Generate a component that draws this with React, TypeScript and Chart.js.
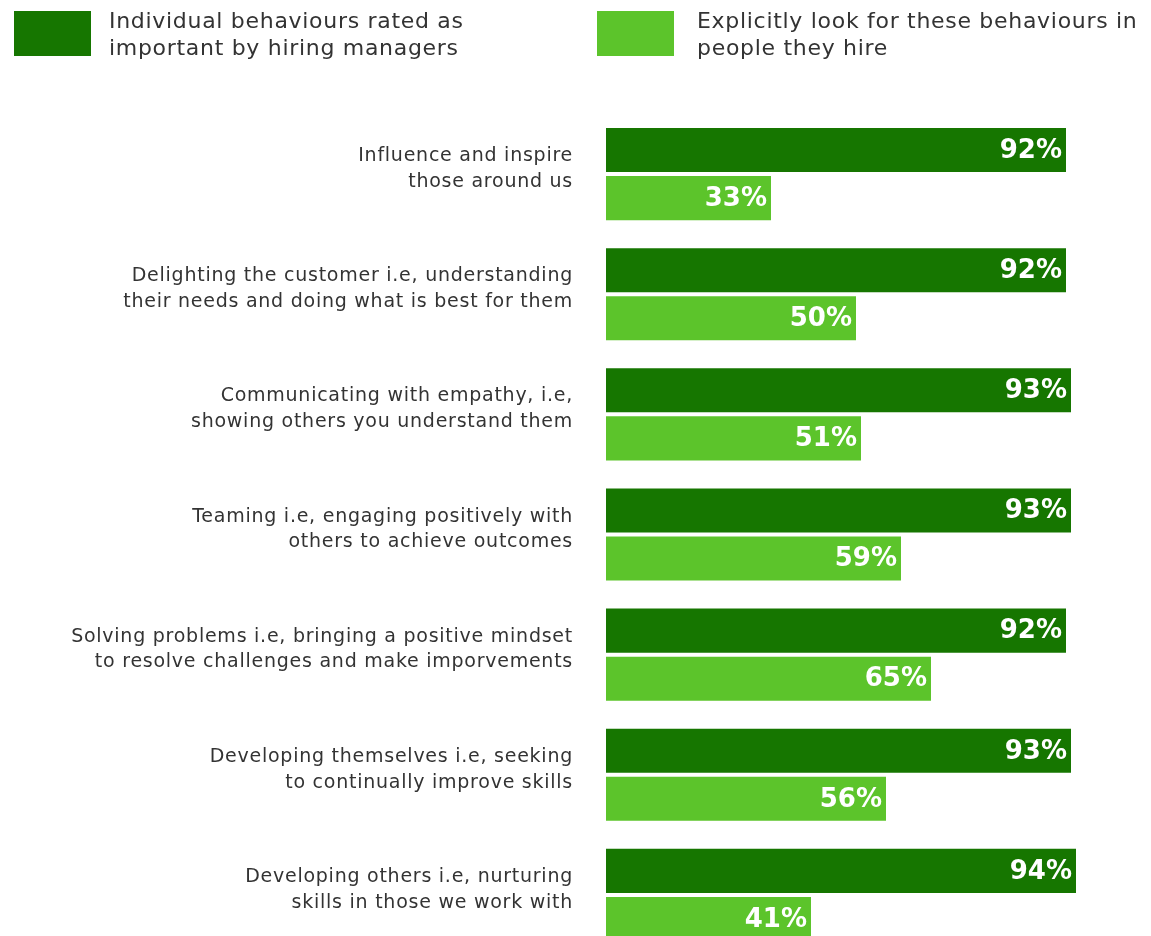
import React, { useEffect, useRef } from "react";
import { Chart, registerables } from "chart.js";

Chart.register(...registerables);

const categories: string[][] = [
  ["Influence and inspire", "those around us"],
  ["Delighting the customer i.e, understanding", "their needs and doing what is best for them"],
  ["Communicating with empathy, i.e,", "showing others you understand them"],
  ["Teaming i.e, engaging positively with", "others to achieve outcomes"],
  ["Solving problems i.e, bringing a positive mindset", "to resolve challenges and make imporvements"],
  ["Developing themselves i.e, seeking", "to continually improve skills"],
  ["Developing others i.e, nurturing", "skills in those we work with"],
];

const ratedImportant = [92, 92, 93, 93, 92, 93, 94];
const explicitlyLookFor = [33, 50, 51, 59, 65, 56, 41];

const seriesLabels: string[][] = [
  ["Individual behaviours rated as", "important by hiring managers"],
  ["Explicitly look for these behaviours in", "people they hire"],
];

const DARK = "#167600";
const LIGHT = "#5cc42b";
const TEXT = "#333333";
const FONT = "'DejaVu Sans', sans-serif";

const spacingPlugin = {
  id: "letterSpacing",
  beforeDraw(chart: any) {
    chart.ctx.letterSpacing = "0.75px";
  },
};

const legendPlugin = {
  id: "customLegend",
  afterDraw(chart: any) {
    const ctx = chart.ctx;
    const items = [
      { box: 6, text: 101 },
      { box: 589, text: 689 },
    ];
    ctx.save();
    ctx.letterSpacing = "0.7px";
    chart.data.datasets.forEach((ds: any, i: number) => {
      const pos = items[i];
      ctx.fillStyle = ds.backgroundColor;
      ctx.fillRect(pos.box, 3, 77, 45);
      ctx.fillStyle = TEXT;
      ctx.font = `22px ${FONT}`;
      ctx.textAlign = "left";
      ctx.textBaseline = "alphabetic";
      const lines: string[] = ds.legendLines;
      lines.forEach((ln, j) => ctx.fillText(ln, pos.text, 20 + j * 27));
    });
    ctx.restore();
  },
};

const valueLabelPlugin = {
  id: "valueLabels",
  afterDatasetsDraw(chart: any) {
    const ctx = chart.ctx;
    ctx.save();
    ctx.letterSpacing = "0px";
    ctx.fillStyle = "#ffffff";
    ctx.font = `bold 26px ${FONT}`;
    ctx.textAlign = "right";
    ctx.textBaseline = "middle";
    chart.data.datasets.forEach((ds: any, i: number) => {
      const meta = chart.getDatasetMeta(i);
      meta.data.forEach((bar: any, j: number) => {
        ctx.fillText(`${ds.data[j]}%`, bar.x - 4, bar.y + 1);
      });
    });
    ctx.restore();
  },
};

export default function App() {
  const ref = useRef<HTMLCanvasElement | null>(null);

  useEffect(() => {
    if (!ref.current) return;
    const prevHtml = document.documentElement.style.overflow;
    const prevBody = document.body.style.overflow;
    document.documentElement.style.overflow = "hidden";
    document.body.style.overflow = "hidden";
    const chart = new Chart(ref.current, {
      type: "bar",
      data: {
        labels: categories,
        datasets: [
          {
            label: seriesLabels[0].join(" "),
            legendLines: seriesLabels[0],
            data: ratedImportant,
            backgroundColor: DARK,
            barPercentage: 0.917,
            categoryPercentage: 0.8,
          } as any,
          {
            label: seriesLabels[1].join(" "),
            legendLines: seriesLabels[1],
            data: explicitlyLookFor,
            backgroundColor: LIGHT,
            barPercentage: 0.917,
            categoryPercentage: 0.8,
          } as any,
        ],
      },
      options: {
        indexAxis: "y",
        animation: false,
        responsive: false,
        devicePixelRatio: 1,
        layout: { padding: { top: 106, bottom: 13, right: 37, left: 0 } },
        plugins: {
          legend: { display: false },
          tooltip: { enabled: false },
        },
        scales: {
          x: {
            display: false,
            min: 0,
            max: 100,
          },
          y: {
            grid: { display: false, drawTicks: false },
            border: { display: false },
            afterFit(scale: any) {
              scale.width = 598;
              scale.paddingTop = 0;
              scale.paddingBottom = 0;
            },
            ticks: {
              padding: 33,
              color: TEXT,
              labelOffset: -5,
              font: { family: FONT, size: 19, lineHeight: 1.35 },
            },
          },
        },
      },
      plugins: [spacingPlugin, legendPlugin, valueLabelPlugin],
    });
    return () => {
      chart.destroy();
      document.documentElement.style.overflow = prevHtml;
      document.body.style.overflow = prevBody;
    };
  }, []);

  return (
    <div style={{ width: 1135, height: 936, overflow: "hidden" }}>
      <canvas ref={ref} width={1135} height={960} style={{ display: "block" }} />
    </div>
  );
}
